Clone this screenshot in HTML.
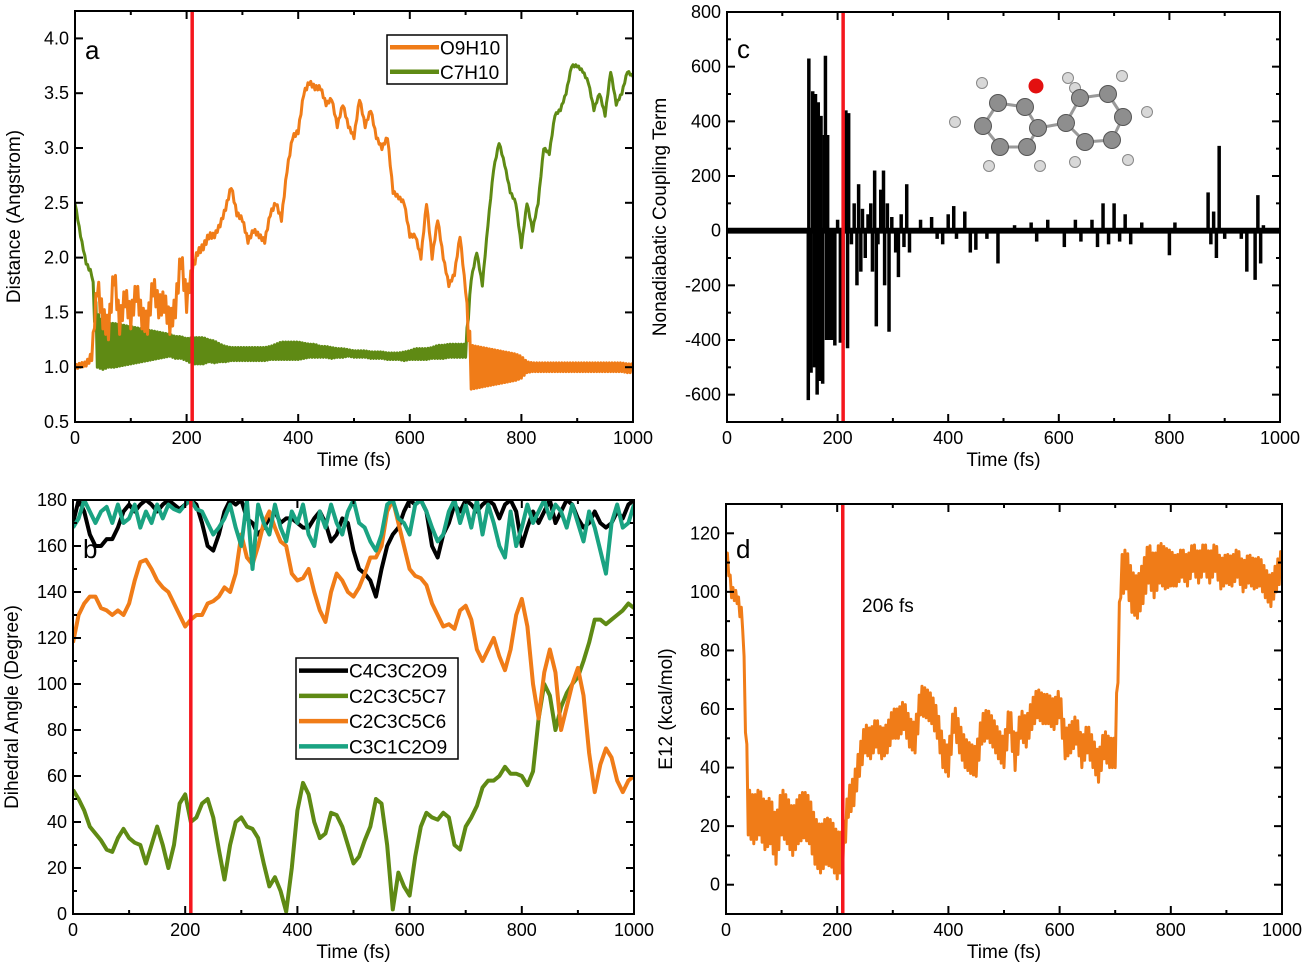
<!DOCTYPE html>
<html><head><meta charset="utf-8"><style>
html,body{margin:0;padding:0;background:#fff;}
svg{display:block;font-family:"Liberation Sans",Arial,sans-serif;}
</style></head><body>
<svg id="fig" width="1305" height="970" viewBox="0 0 1305 970" xmlns="http://www.w3.org/2000/svg"></svg>
<script>
// ---------- DATA (time step 10 fs, 0..1000) ----------
const timeTicks = [0,200,400,600,800,1000];
// Panel a
const aTicks = [0.5,1.0,1.5,2.0,2.5,3.0,3.5,4.0];
const o9h10 = [1.0,1.02,1.03,1.1,1.75,1.45,1.35,1.85,1.4,1.65,1.45,1.7,1.45,1.4,1.75,1.55,1.6,1.4,1.55,2.0,1.6,1.9,2.05,2.1,2.2,2.2,2.3,2.45,2.65,2.4,2.35,2.15,2.25,2.2,2.15,2.4,2.5,2.35,2.8,3.1,3.15,3.5,3.6,3.55,3.55,3.4,3.45,3.2,3.4,3.2,3.1,3.45,3.2,3.35,3.1,3.0,3.1,2.6,2.55,2.5,2.2,2.2,2.0,2.5,2.0,2.35,2.0,1.75,1.85,2.2,1.7,1.0,1.0,1.0,1.0,1.0,1.0,1.0,1.0,1.0,1.0,1.0,1.0,1.0,1.0,1.0,1.0,1.0,1.0,1.0,1.0,1.0,1.0,1.0,1.0,1.0,1.0,1.0,1.0,0.99,0.99];
const o9h10Amp = [0.02,0.02,0.02,0.04,0.1,0.1,0.1,0.1,0.1,0.1,0.1,0.1,0.1,0.1,0.1,0.1,0.1,0.1,0.1,0.1,0.1,0.04,0.03,0.03,0.03,0.02,0.02,0.02,0.02,0.02,0.02,0.02,0.02,0.02,0.02,0.02,0.02,0.02,0.02,0.02,0.02,0.02,0.02,0.02,0.02,0.015,0.015,0.015,0.015,0.015,0.015,0.015,0.015,0.015,0.015,0.015,0.015,0.015,0.015,0.015,0.015,0.015,0.015,0.015,0.015,0.015,0.015,0.015,0.015,0.015,0.015,0.2,0.19,0.18,0.17,0.16,0.15,0.14,0.13,0.12,0.1,0.05,0.04,0.04,0.04,0.04,0.04,0.04,0.04,0.04,0.04,0.04,0.04,0.04,0.04,0.04,0.04,0.04,0.04,0.04,0.04,0.04];
const c7h10 = [2.5,2.2,1.95,1.85,1.25,1.2,1.2,1.2,1.2,1.2,1.2,1.2,1.2,1.2,1.2,1.2,1.2,1.2,1.18,1.18,1.16,1.15,1.15,1.15,1.15,1.14,1.13,1.12,1.12,1.12,1.12,1.12,1.12,1.12,1.12,1.13,1.14,1.15,1.15,1.15,1.15,1.15,1.15,1.15,1.14,1.14,1.13,1.13,1.13,1.13,1.12,1.12,1.12,1.11,1.11,1.11,1.1,1.1,1.1,1.1,1.11,1.12,1.12,1.12,1.13,1.14,1.14,1.15,1.15,1.15,1.15,1.8,2.05,1.75,2.3,2.8,3.05,2.85,2.6,2.5,2.1,2.5,2.25,2.5,3.0,2.95,3.3,3.35,3.5,3.75,3.75,3.7,3.6,3.35,3.5,3.3,3.7,3.4,3.5,3.7,3.65];
const c7h10Amp = [0.01,0.01,0.01,0.02,0.25,0.22,0.2,0.2,0.19,0.18,0.17,0.16,0.15,0.14,0.13,0.12,0.11,0.1,0.1,0.1,0.1,0.12,0.12,0.12,0.1,0.1,0.08,0.07,0.06,0.06,0.06,0.06,0.06,0.06,0.06,0.06,0.07,0.08,0.08,0.08,0.08,0.07,0.06,0.06,0.05,0.05,0.05,0.04,0.04,0.03,0.03,0.03,0.03,0.03,0.03,0.03,0.03,0.03,0.03,0.04,0.04,0.05,0.05,0.05,0.05,0.06,0.06,0.06,0.06,0.06,0.06,0.01,0.01,0.01,0.01,0.01,0.01,0.01,0.01,0.01,0.01,0.01,0.01,0.01,0.01,0.01,0.01,0.01,0.01,0.01,0.01,0.01,0.01,0.01,0.01,0.01,0.01,0.01,0.01,0.01,0.01];
// Panel b
const bTicks = [0,20,40,60,80,100,120,140,160,180];
const c4c3c2o9 = [170,180,175,165,160,160,163,163,168,175,178,175,178,180,178,175,178,180,178,176,178,180,178,170,160,158,165,175,180,178,180,172,170,165,168,172,175,170,172,172,170,168,168,172,175,170,162,165,172,170,158,150,148,145,138,150,160,165,168,175,180,178,180,175,160,155,165,170,178,175,180,178,175,178,180,178,172,178,180,175,160,168,175,170,175,180,170,175,180,178,172,168,170,175,170,168,170,175,172,178,180];
const c2c3c5c7 = [54,50,45,38,35,32,28,27,33,37,33,31,30,22,30,38,30,20,30,48,52,40,42,48,50,42,28,15,30,40,42,38,37,33,22,12,16,10,1,20,45,57,52,40,33,35,44,43,38,30,22,25,32,38,50,48,30,2,18,12,8,25,38,44,42,41,44,42,30,28,38,42,47,55,58,58,60,64,61,61,60,56,62,85,100,95,80,90,96,100,103,110,118,128,128,126,128,130,132,135,133];
const c2c3c5c6 = [118,130,135,138,138,133,132,130,132,130,135,145,153,154,150,145,142,140,135,130,125,128,130,130,135,136,138,142,140,148,165,155,152,160,170,175,168,162,160,148,145,146,150,140,132,127,140,148,145,140,138,142,148,155,155,160,175,180,170,160,150,147,146,143,135,130,125,126,124,132,134,128,115,110,115,120,112,106,115,130,137,125,100,85,105,115,105,80,90,100,107,95,70,53,65,72,68,58,53,58,60];
const c3c1c2o9 = [168,172,180,175,170,175,177,170,178,170,172,178,168,175,170,178,172,178,176,175,178,180,176,175,170,165,168,172,178,168,160,180,150,178,170,165,178,168,162,175,170,178,165,160,175,168,178,170,165,175,180,170,168,162,158,165,178,180,172,170,165,178,180,175,168,162,165,175,180,170,178,168,180,165,178,170,160,155,175,160,168,178,170,175,180,172,178,175,168,178,170,162,175,168,158,148,170,178,168,170,178];
// Panel c
const cTicks = [-600,-400,-200,0,200,400,600,800];
const spikeTimes = [147,148,152,155,158,160,163,165,168,170,173,176,178,180,182,185,190,195,200,205,210,215,218,220,225,230,235,238,242,245,250,255,260,263,267,270,273,278,283,285,290,293,298,305,310,315,320,325,330,350,370,380,390,400,410,415,430,440,450,470,490,520,550,560,580,610,630,640,660,670,680,690,700,710,720,730,750,800,810,870,875,880,885,890,900,930,940,955,960,965,970];
const spikeValues = [-620,630,-520,510,-500,500,-600,470,-550,420,-560,350,640,-400,350,-400,-400,-420,40,-410,-400,440,-430,430,-50,100,-200,170,-150,80,-100,60,100,-150,220,-350,-50,150,220,-200,100,-370,50,-80,-170,60,-60,170,-80,40,50,-30,-50,60,90,-30,70,-80,-70,-30,-120,20,30,-40,40,-60,40,-40,40,-60,100,-50,100,-40,60,-50,30,-90,30,140,-50,70,-100,310,-30,-30,-150,-180,130,-120,20];
const nacNoise = 10;
// Panel d
const dTicks = [0,20,40,60,80,100,120];
const e12 = [115,100,98,90,25,22,25,20,22,15,25,22,18,22,24,22,15,12,15,14,10,12,28,32,42,50,48,52,48,50,55,55,58,52,50,63,62,60,55,45,42,57,50,45,43,42,53,55,52,48,45,57,44,55,52,58,62,60,60,58,62,48,50,53,45,50,45,40,48,45,45,105,108,100,98,103,110,105,110,108,108,107,110,107,112,108,112,108,112,106,108,107,110,105,108,106,107,103,100,105,110];
const e12Amp = [2,2,2,3,8,8,8,8,8,8,8,8,8,8,8,8,8,8,8,8,8,6,5,5,5,5,5,5,5,5,5,5,5,5,5,5,5,5,5,5,5,5,5,5,5,5,5,5,5,5,5,5,5,5,5,5,5,5,5,5,5,5,5,5,5,5,5,5,5,5,5,7,7,7,7,7,7,7,7,7,6,5,5,5,5,5,5,5,5,5,5,5,5,5,5,5,5,5,5,5,5];
const crossingTime = 210;

// ---------- RENDER ----------
const NS = "http://www.w3.org/2000/svg";
const svg = document.getElementById('fig');
function el(tag, parent){ const e=document.createElementNS(NS,tag); parent.appendChild(e); return e; }
function set(e,o){ for(const k in o) e.setAttribute(k,o[k]); return e; }

function makePanel(p){
  const g = el('g', svg);
  
  
  const xs = t => p.x0 + (t-0)/1000*(p.x1-p.x0);
  const ys = v => p.y1 - (v-p.vmin)/(p.vmax-p.vmin)*(p.y1-p.y0);
  p.xs=xs; p.ys=ys; p.g=g;
  return p;
}
function drawFrame(p){
  const g=p.g, xs=p.xs, ys=p.ys;
  const fr = set(el('rect',g),{x:p.x0,y:p.y0,width:p.x1-p.x0,height:p.y1-p.y0,fill:'none',stroke:'#000','stroke-width':2});
  
  
  for(let t=0;t<=1000;t+=100){
    const L = t%200===0?8:4;
    set(el('line',g),{x1:xs(t),x2:xs(t),y1:p.y1,y2:p.y1-L,stroke:'#000','stroke-width':2});
    set(el('line',g),{x1:xs(t),x2:xs(t),y1:p.y0,y2:p.y0+L,stroke:'#000','stroke-width':2});
  }
  timeTicks.forEach(t=>{
    const tx=set(el('text',g),{x:xs(t),y:p.y1+22,'text-anchor':'middle','font-size':18});
    tx.textContent=t;
    
    
  });
  p.ticks.forEach((v,i)=>{
    const y=ys(v);
    set(el('line',g),{x1:p.x0,x2:p.x0+8,y1:y,y2:y,stroke:'#000','stroke-width':2});
    set(el('line',g),{x1:p.x1,x2:p.x1-8,y1:y,y2:y,stroke:'#000','stroke-width':2});
    if(p.minor && i<p.ticks.length-1){
      const ym=ys((v+p.ticks[i+1])/2);
      set(el('line',g),{x1:p.x0,x2:p.x0+4,y1:ym,y2:ym,stroke:'#000','stroke-width':2});
      set(el('line',g),{x1:p.x1,x2:p.x1-4,y1:ym,y2:ym,stroke:'#000','stroke-width':2});
    }
    const tx=set(el('text',g),{x:p.x0-6,y:y+6,'text-anchor':'end','font-size':18});
    tx.textContent=p.fmt?p.fmt(v):v;
    
    
  });
  const xt=set(el('text',g),{x:(p.x0+p.x1)/2,y:p.y1+44,'text-anchor':'middle','font-size':19});
  xt.textContent='Time (fs)';
  
  
  const yt=set(el('text',g),{x:0,y:0,'text-anchor':'middle','font-size':19,transform:`translate(${p.ytx},${(p.y0+p.y1)/2}) rotate(-90)`});
  yt.textContent=p.ytitle;
  
  
  const lb=set(el('text',g),{x:p.x0+10,y:p.y0+p.labdy,'font-size':26});
  lb.textContent=p.label;
  
  
}
function clip(p){
  const id='clip'+p.label;
  const cp=set(el('clipPath',svg),{id:id});
  set(el('rect',cp),{x:p.x0,y:p.y0,width:p.x1-p.x0,height:p.y1-p.y0});
  return 'url(#'+id+')';
}
function oscSeries(p, mean, amp, color, name){
  const pts=[];
  for(let i=0;i<mean.length-1;i++){
    for(let k=0;k<4;k++){
      const f=k/4, t=i*10+k*2.5;
      const m=mean[i]+(mean[i+1]-mean[i])*f;
      const a=amp[i]+(amp[i+1]-amp[i])*f;
      pts.push(p.xs(t)+','+p.ys(m+(k%2?a:-a)));
    }
  }
  pts.push(p.xs(1000)+','+p.ys(mean[mean.length-1]));
  const pl=set(el('polyline',p.g),{points:pts.join(' '),fill:'none',stroke:color,'stroke-width':3,'stroke-linejoin':'round','clip-path':p.cp});
  
  
}
function smoothSeries(p, vals, color, name){
  const pts=vals.map((v,i)=>p.xs(i*10)+','+p.ys(v));
  const pl=set(el('polyline',p.g),{points:pts.join(' '),fill:'none',stroke:color,'stroke-width':4,'stroke-linejoin':'round','clip-path':p.cp});
  
  
}
function redLine(p){
  const r=set(el('line',p.g),{x1:p.xs(crossingTime),x2:p.xs(crossingTime),y1:p.y0,y2:p.y1,stroke:'#f5161d','stroke-width':3.5});
  
  
}
function legend(p,x,y,w,h,items){
  const g=el('g',p.g);
  
  
  set(el('rect',g),{x:x,y:y,width:w,height:h,fill:'#fff',stroke:'#000','stroke-width':1.5});
  const dy=h/items.length;
  items.forEach((it,i)=>{
    const cy=y+dy*(i+0.5);
    const e=el('g',g);
    
    
    set(el('line',e),{x1:x+3,x2:x+52,y1:cy,y2:cy,stroke:it[1],'stroke-width':4.5});
    const t=set(el('text',e),{x:x+53,y:cy+7,'font-size':19});
    t.textContent=it[0];
  });
}

// Panel a
const pa = makePanel({name:'panel-a-distance',label:'a',x0:75,x1:633,y0:11,y1:422,vmin:0.5,vmax:4.25,ticks:aTicks,minor:false,fmt:v=>v.toFixed(1),ytitle:'Distance (Angstrom)',ytx:20,labdy:48});
pa.cp=clip(pa);
oscSeries(pa,c7h10,c7h10Amp,'#5f8a14','series-c7h10');
oscSeries(pa,o9h10,o9h10Amp,'#f07c18','series-o9h10');
redLine(pa);
drawFrame(pa);
legend(pa,387,35,120,49,[['O9H10','#f07c18'],['C7H10','#5f8a14']]);

// Panel c
const pc = makePanel({name:'panel-c-coupling',label:'c',x0:727,x1:1280,y0:12,y1:422,vmin:-700,vmax:800,ticks:cTicks,minor:true,ytitle:'Nonadiabatic Coupling Term',ytx:666,labdy:46});
pc.cp=clip(pc);
(function(){
  const pts=[];
  for(let t=0;t<=1000;t+=2){ pts.push(pc.xs(t)+','+pc.ys(((t/2)%2?nacNoise:-nacNoise))); }
  const pl=set(el('polyline',pc.g),{points:pts.join(' '),fill:'none',stroke:'#000','stroke-width':2.4,'clip-path':pc.cp});
  
  
  spikeTimes.forEach((t,i)=>{
    const s=set(el('line',pc.g),{x1:pc.xs(t),x2:pc.xs(t),y1:pc.ys(0),y2:pc.ys(spikeValues[i]),stroke:'#000','stroke-width':3.5});
    
    
  });
})();
redLine(pc);
drawFrame(pc);
(function(){
  const g=el('g',pc.g);
  
  
  const C=[[998,103],[1025,107],[1038,128],[1027,147],[1000,147],[983,126],[1066,123],[1080,98],[1108,94],[1123,117],[1112,140],[1085,142]];
  const H=[[982,83],[955,122],[989,166],[1040,166],[1068,78],[1075,88],[1122,76],[1147,112],[1128,160],[1075,162]];
  const bonds=[[0,1],[1,2],[2,3],[3,4],[4,5],[5,0],[2,6],[6,7],[7,8],[8,9],[9,10],[10,11],[11,6]];
  bonds.forEach(b=>set(el('line',g),{x1:C[b[0]][0],y1:C[b[0]][1],x2:C[b[1]][0],y2:C[b[1]][1],stroke:'#999','stroke-width':3}));
  H.forEach(h=>set(el('circle',g),{cx:h[0],cy:h[1],r:5.5,fill:'#d8d8d8',stroke:'#888','stroke-width':1}));
  C.forEach(c=>set(el('circle',g),{cx:c[0],cy:c[1],r:8.5,fill:'#8e8e8e',stroke:'#555','stroke-width':1}));
  set(el('circle',g),{cx:1036,cy:86,r:7.5,fill:'#e31010'});
})();

// Panel b
const pb = makePanel({name:'panel-b-dihedral',label:'b',x0:73,x1:634,y0:500,y1:914,vmin:0,vmax:180,ticks:bTicks,minor:true,ytitle:'Dihedral Angle (Degree)',ytx:18,labdy:58});
pb.cp=clip(pb);
smoothSeries(pb,c4c3c2o9,'#000','series-c4c3c2o9');
smoothSeries(pb,c2c3c5c7,'#5f8a14','series-c2c3c5c7');
smoothSeries(pb,c2c3c5c6,'#f07c18','series-c2c3c5c6');
smoothSeries(pb,c3c1c2o9,'#1aa382','series-c3c1c2o9');
redLine(pb);
drawFrame(pb);
legend(pb,296,658,162,101,[['C4C3C2O9','#000'],['C2C3C5C7','#5f8a14'],['C2C3C5C6','#f07c18'],['C3C1C2O9','#1aa382']]);

// Panel d
const pd = makePanel({name:'panel-d-energy-gap',label:'d',x0:726,x1:1282,y0:504,y1:914,vmin:-10,vmax:130,ticks:dTicks,minor:true,ytitle:'E12 (kcal/mol)',ytx:672,labdy:54});
pd.cp=clip(pd);
oscSeries(pd,e12,e12Amp,'#f07c18','series-e12');
redLine(pd);
drawFrame(pd);
(function(){
  const t=set(el('text',pd.g),{x:862,y:612,'font-size':19});
  t.textContent='206 fs';
  
  
})();
</script>
</body></html>
